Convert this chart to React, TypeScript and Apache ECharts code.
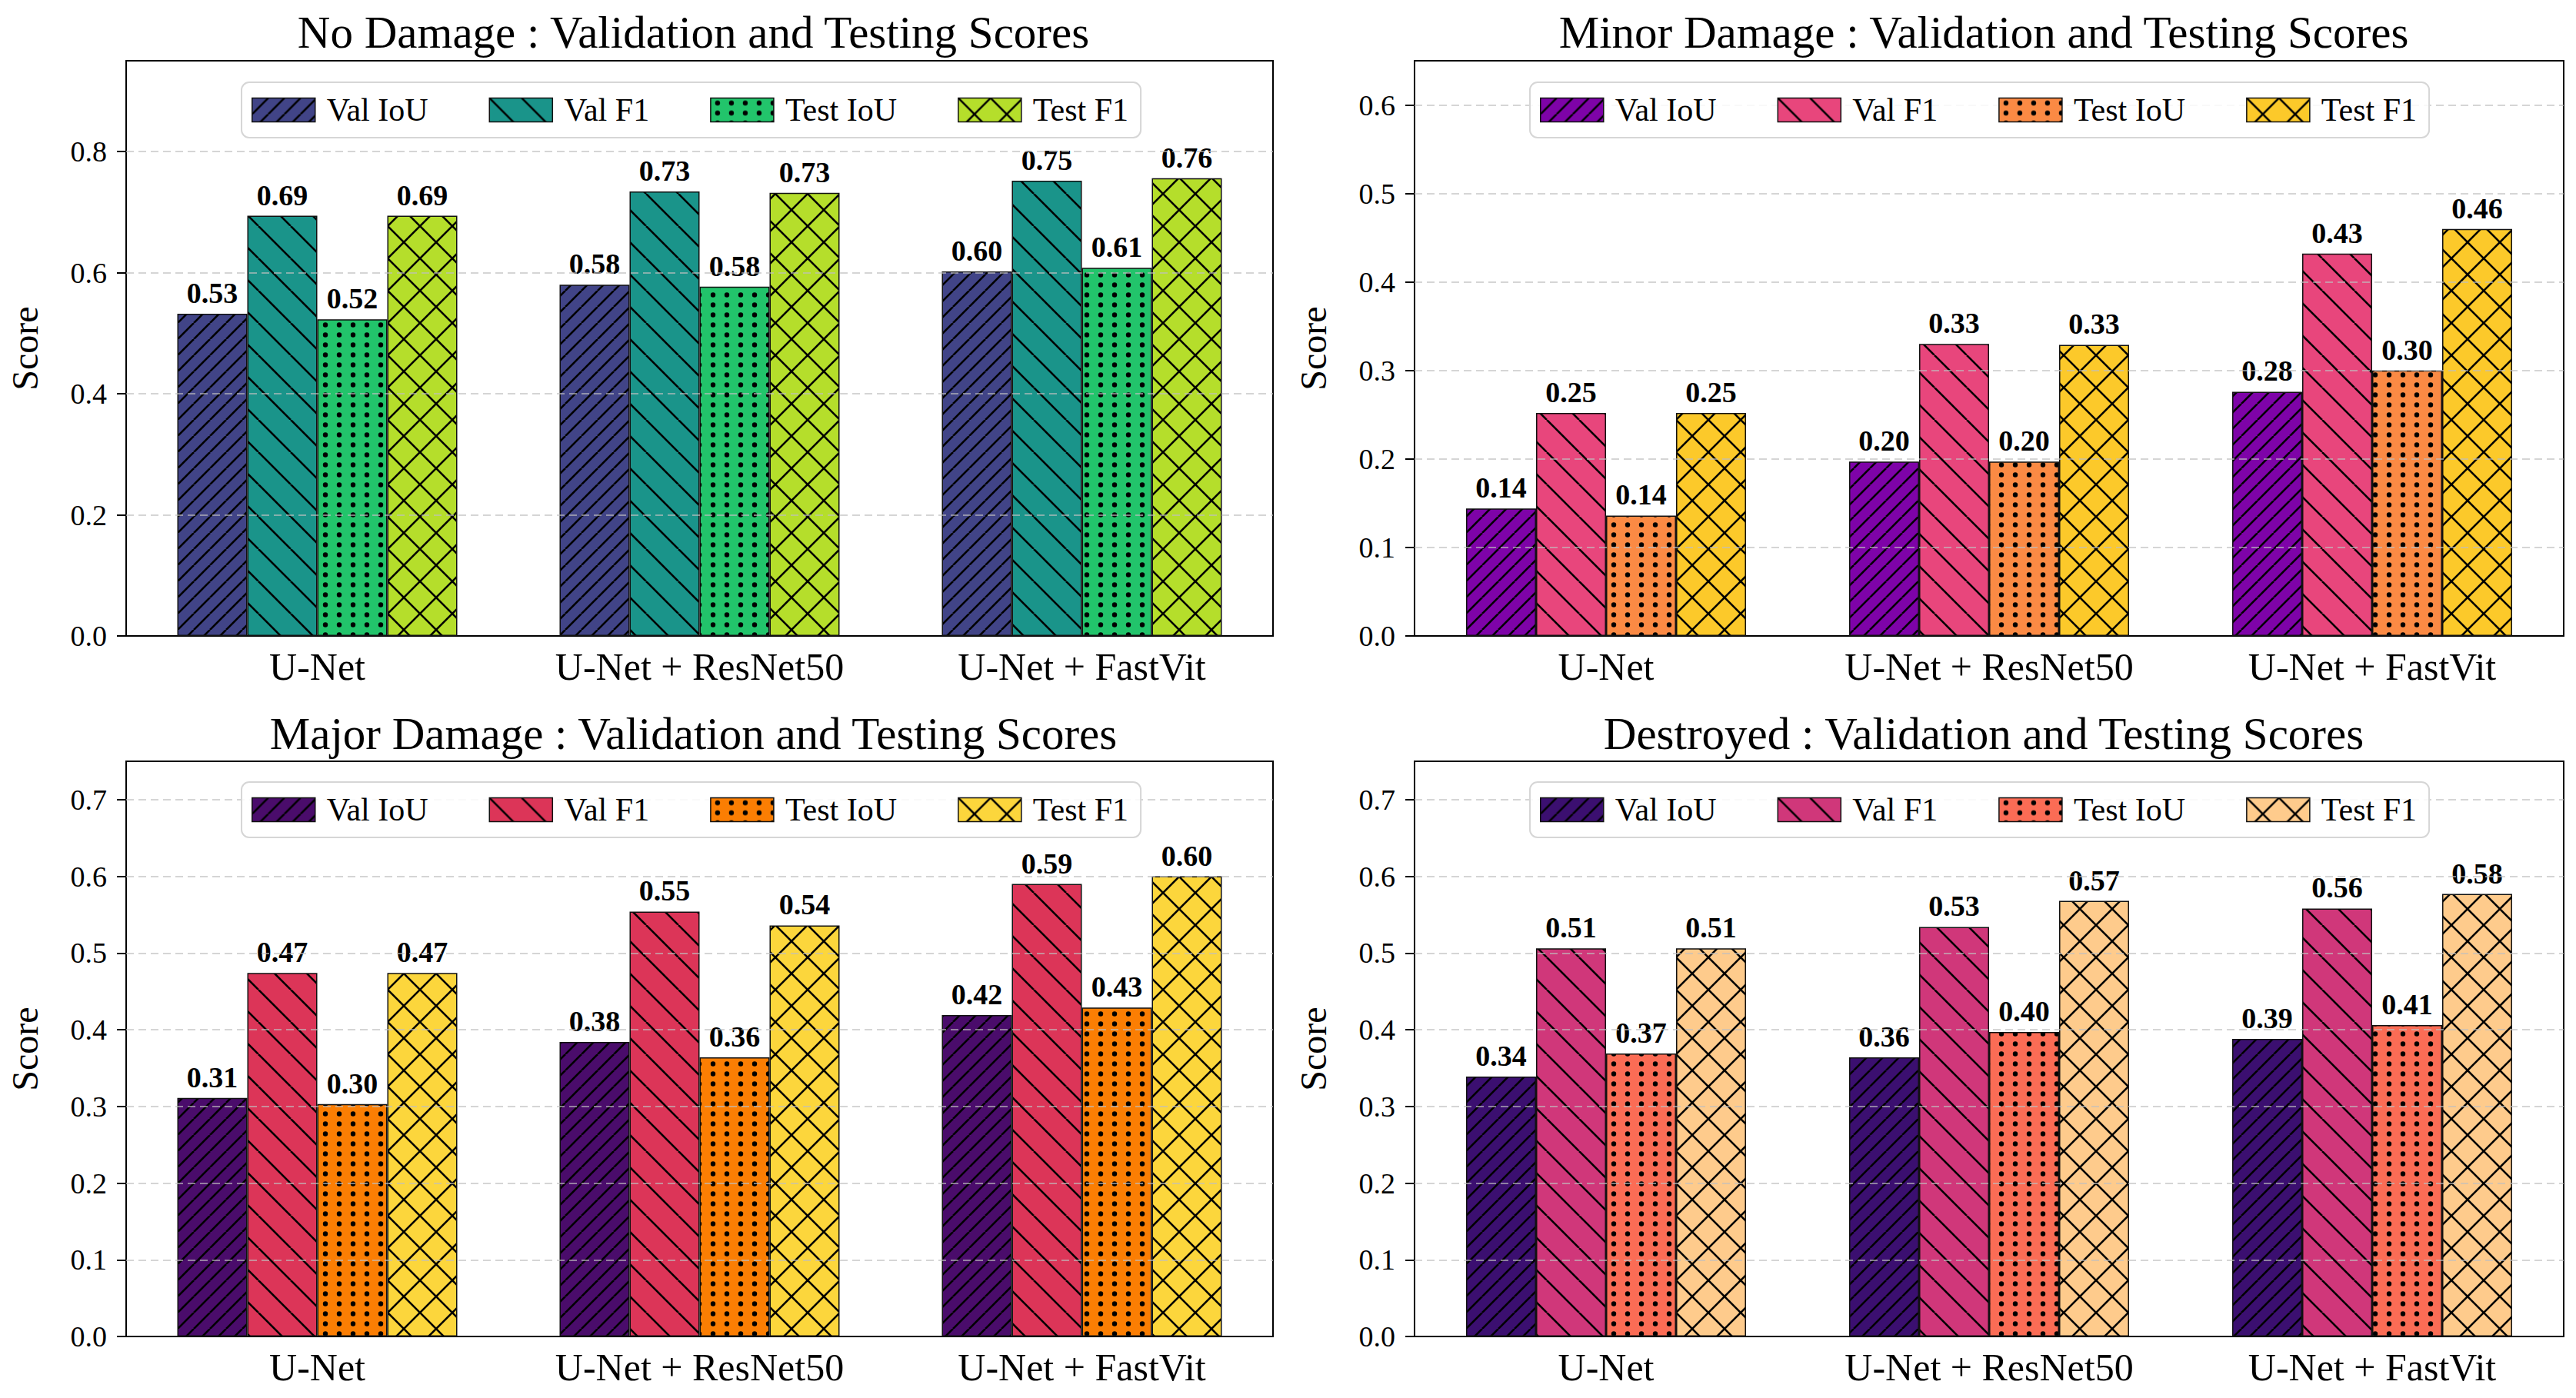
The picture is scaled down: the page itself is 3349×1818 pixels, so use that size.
import React, { useEffect, useRef } from 'react';
import * as echarts from 'echarts';

const categories = ['U-Net', 'U-Net + ResNet50', 'U-Net + FastVit'];
const seriesNames = ['Val IoU', 'Val F1', 'Test IoU', 'Test F1'];

// No Damage
const noValIoU = [0.532, 0.58, 0.602];
const noValF1 = [0.694, 0.734, 0.752];
const noTestIoU = [0.523, 0.577, 0.608];
const noTestF1 = [0.694, 0.732, 0.756];
// Minor Damage
const minorValIoU = [0.144, 0.197, 0.276];
const minorValF1 = [0.252, 0.33, 0.432];
const minorTestIoU = [0.136, 0.197, 0.3];
const minorTestF1 = [0.252, 0.329, 0.46];
// Major Damage
const majorValIoU = [0.311, 0.384, 0.419];
const majorValF1 = [0.474, 0.554, 0.59];
const majorTestIoU = [0.303, 0.364, 0.429];
const majorTestF1 = [0.474, 0.536, 0.6];
// Destroyed
const destValIoU = [0.339, 0.364, 0.388];
const destValF1 = [0.506, 0.534, 0.558];
const destTestIoU = [0.369, 0.397, 0.406];
const destTestF1 = [0.506, 0.568, 0.577];

const noTicks = [0, 0.2, 0.4, 0.6, 0.8];
const minorTicks = [0, 0.1, 0.2, 0.3, 0.4, 0.5, 0.6];
const majorTicks = [0, 0.1, 0.2, 0.3, 0.4, 0.5, 0.6, 0.7];

const noColors = ['#414487', '#1a948a', '#22c46b', '#b5de2b'];
const minorColors = ['#7e03a8', '#e8467c', '#fb8a44', '#fcc92a'];
const majorColors = ['#4a0c6b', '#dc3558', '#fb7e03', '#fcd63c'];
const destColors = ['#3b0f70', '#d0377a', '#fb6c55', '#fecb8c'];

const hatchKinds = ['ne', 'se', 'dots', 'x'];

const FONT = "'Liberation Serif', 'Times New Roman', serif";

function makePattern(kind: string, bg: string) {
  let w = 21;
  let h = 21;
  if (kind === 'se' || kind === 'x') {
    w = 42;
    h = 42;
  } else if (kind === 'dots') {
    w = 18;
    h = 26;
  }
  const c = document.createElement('canvas');
  c.width = w;
  c.height = h;
  const ctx = c.getContext('2d')!;
  ctx.fillStyle = bg;
  ctx.fillRect(0, 0, w, h);
  ctx.strokeStyle = '#000';
  ctx.fillStyle = '#000';
  ctx.lineWidth = 2.6;
  ctx.lineCap = 'butt';
  const ne = () => {
    for (let k = -1; k <= 1; k++) {
      ctx.beginPath();
      ctx.moveTo(k * w, h);
      ctx.lineTo(k * w + w, 0);
      ctx.stroke();
    }
  };
  const se = () => {
    for (let k = -1; k <= 1; k++) {
      ctx.beginPath();
      ctx.moveTo(k * w, 0);
      ctx.lineTo(k * w + w, h);
      ctx.stroke();
    }
  };
  if (kind === 'ne') ne();
  else if (kind === 'se') se();
  else if (kind === 'x') {
    ne();
    se();
  } else {
    const pts = [
      [w / 2, h / 4], [w / 2, (3 * h) / 4],
    ];
    for (const [x, y] of pts) {
      ctx.beginPath();
      ctx.arc(x, y, 3.2, 0, Math.PI * 2);
      ctx.fill();
    }
  }
  return {
    image: c.toDataURL(),
    repeat: 'repeat',
    imageWidth: w,
    imageHeight: h,
  };
}

type PanelCfg = {
  title: string;
  max: number;
  interval: number;
  ticks: number[];
  colors: string[];
  values: number[][];
  gridLeft: number;
  gridTop: number;
  gridWidth: number;
  titleTop: number;
  legendTop: number;
  x: number;
  y: number;
};

const panels: PanelCfg[] = [
  {
    title: 'No Damage : Validation and Testing Scores',
    max: 0.95, interval: 0.2, ticks: noTicks, colors: noColors,
    values: [noValIoU, noValF1, noTestIoU, noTestF1],
    gridLeft: 148, gridTop: 79, gridWidth: 1507, titleTop: 12, legendTop: 107, x: 0, y: 0,
  },
  {
    title: 'Minor Damage : Validation and Testing Scores',
    max: 0.65, interval: 0.1, ticks: minorTicks, colors: minorColors,
    values: [minorValIoU, minorValF1, minorTestIoU, minorTestF1],
    gridLeft: 150, gridTop: 79, gridWidth: 1508, titleTop: 12, legendTop: 107, x: 1675, y: 0,
  },
  {
    title: 'Major Damage : Validation and Testing Scores',
    max: 0.75, interval: 0.1, ticks: majorTicks, colors: majorColors,
    values: [majorValIoU, majorValF1, majorTestIoU, majorTestF1],
    gridLeft: 148, gridTop: 81, gridWidth: 1507, titleTop: 15, legendTop: 108, x: 0, y: 909,
  },
  {
    title: 'Destroyed : Validation and Testing Scores',
    max: 0.75, interval: 0.1, ticks: majorTicks, colors: destColors,
    values: [destValIoU, destValF1, destTestIoU, destTestF1],
    gridLeft: 150, gridTop: 81, gridWidth: 1508, titleTop: 15, legendTop: 108, x: 1675, y: 909,
  },
];

function buildOption(p: PanelCfg) {
  const series: any[] = seriesNames.map((name, i) => ({
    name,
    type: 'bar',
    data: p.values[i],
    barWidth: 91,
    barGap: '0%',
    itemStyle: {
      color: makePattern(hatchKinds[i], p.colors[i]),
      borderColor: '#111',
      borderWidth: 1.5,
    },
    label: {
      show: true,
      position: 'top',
      distance: 8,
      fontFamily: FONT,
      fontWeight: 'bold',
      fontSize: 38,
      color: '#000',
      formatter: (q: any) => Number(q.value).toFixed(2),
    },
  }));
  // dashed grid lines drawn above the bars (as in the reference)
  series[series.length - 1].markLine = {
    silent: true,
    symbol: ['none', 'none'],
    z: 10,
    label: { show: false },
    lineStyle: { color: 'rgba(190,190,190,0.65)', width: 2, type: [10, 6] },
    emphasis: { disabled: true },
    data: p.ticks.filter((v) => v > 0).map((v) => ({ yAxis: v })),
  };
  return {
    animation: false,
    backgroundColor: '#fff',
    title: {
      text: p.title,
      left: p.gridLeft + p.gridWidth / 2,
      top: p.titleTop,
      textAlign: 'center',
      padding: 0,
      textStyle: { fontFamily: FONT, fontWeight: 'normal', fontSize: 59, color: '#000' },
    },
    legend: {
      data: seriesNames,
      left: 314,
      top: p.legendTop,
      icon: 'rect',
      z: 20,
      itemWidth: 82,
      itemHeight: 31,
      itemGap: 79,
      padding: [15, 16, 15, 13],
      backgroundColor: 'rgba(255,255,255,0.85)',
      borderColor: '#d6d6d6',
      borderWidth: 2,
      borderRadius: 10,
      itemStyle: { borderColor: '#111', borderWidth: 1.5 },
      textStyle: { fontFamily: FONT, fontSize: 42, color: '#000', padding: [0, 0, 0, 10] },
    },
    grid: {
      left: p.gridLeft,
      top: p.gridTop,
      width: p.gridWidth,
      height: 748,
      show: true,
      borderColor: '#000',
      borderWidth: 2,
      backgroundColor: 'transparent',
    },
    xAxis: {
      type: 'category',
      data: categories,
      axisLine: { lineStyle: { color: '#000', width: 2 } },
      axisTick: { alignWithLabel: true, length: 12, lineStyle: { color: '#000', width: 2 } },
      axisLabel: { fontFamily: FONT, fontSize: 50, color: '#000', margin: 15 },
    },
    yAxis: {
      type: 'value',
      min: 0,
      max: p.max,
      interval: p.interval,
      name: 'Score',
      nameLocation: 'middle',
      nameRotate: 90,
      nameGap: 108,
      nameTextStyle: { fontFamily: FONT, fontSize: 48, color: '#000' },
      axisLine: { show: true, lineStyle: { color: '#000', width: 2 } },
      axisTick: { show: true, length: 12, customValues: p.ticks, lineStyle: { color: '#000', width: 2 } },
      axisLabel: {
        fontFamily: FONT,
        fontSize: 38,
        color: '#000',
        margin: 25,
        customValues: p.ticks,
        formatter: (v: number) => v.toFixed(1),
      },
      splitLine: { show: false },
    },
    series,
  };
}

function Panel({ cfg }: { cfg: PanelCfg }) {
  const ref = useRef<HTMLDivElement>(null);
  useEffect(() => {
    const chart = echarts.init(ref.current!, null, { renderer: 'svg' });
    chart.setOption(buildOption(cfg) as any);
    return () => chart.dispose();
  }, [cfg]);
  return (
    <div
      ref={ref}
      style={{ position: 'absolute', left: cfg.x, top: cfg.y, width: 1675, height: 909 }}
    />
  );
}

export default function App() {
  return (
    <div style={{ position: 'absolute', left: 0, top: 0, width: 3349, height: 1818, background: '#fff' }}>
      {panels.map((p, i) => (
        <Panel key={i} cfg={p} />
      ))}
    </div>
  );
}
